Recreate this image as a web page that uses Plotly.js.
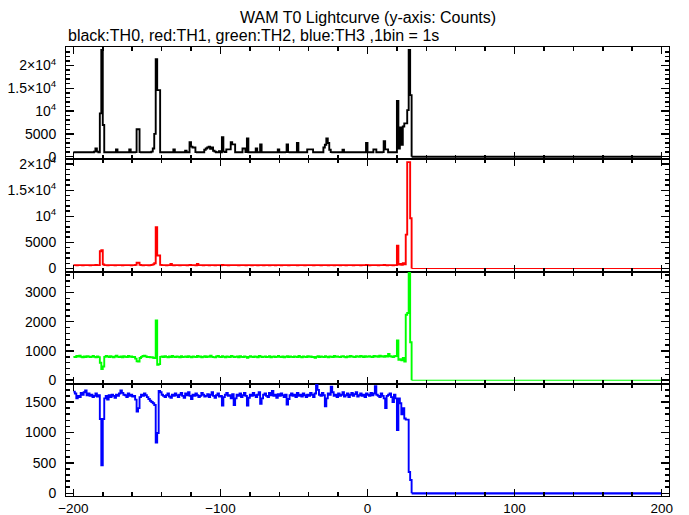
<!DOCTYPE html>
<html><head><meta charset="utf-8">
<script src="https://cdn.plot.ly/plotly-3.0.1.min.js"></script>
<style>html,body{margin:0;padding:0;background:#fff}#chart{width:689px;height:515px}</style>
</head><body><div id="chart"></div>
<script>
const titleText = "WAM T0 Lightcurve (y-axis: Counts)";
const subtitleText = "black:TH0, red:TH1, green:TH2, blue:TH3 ,1bin = 1s";
const firstBin = -200, binWidth = 1, nBins = 230;   // bins -200 .. 29 (1 s each)
const tailTimes = [30, 200];                         // after the drop
const xTickVals = [-200, -100, 0, 100, 200];

// TH0 (black) counts per 1 s bin, -200..29, then tail
const th0 = [
 950, 960, 940, 950, 970, 950, 940, 960, 950, 950,
 960, 950, 970, 980, 1100, 1800, 1100, 950, 9500, 23400,
 6950, 950, 940, 960, 950, 950, 970, 960, 950, 1600,
 950, 960, 950, 940, 950, 960, 950, 970, 1600, 950,
 950, 960, 1000, 6000, 6000, 1000, 950, 960, 940, 950,
 960, 950, 970, 1100, 1800, 5000, 21400, 14600, 14600, 980,
 950, 940, 960, 950, 950, 970, 960, 950, 1600, 950,
 960, 950, 940, 950, 960, 950, 1300, 950, 960, 3150,
 2200, 2000, 2000, 1000, 950, 960, 950, 940, 950, 1500,
 1800, 2000, 2200, 1700, 2000, 1300, 1100, 950, 960, 1200,
 950, 4250, 1100, 1000, 1600, 1600, 1600, 3150, 2700, 2700,
 960, 950, 950, 970, 960, 1800, 1800, 1000, 4000, 960,
 950, 960, 940, 950, 1800, 950, 960, 2700, 950, 960,
 950, 940, 960, 950, 950, 970, 960, 950, 940, 1600,
 950, 960, 950, 970, 1000, 2700, 1000, 950, 960, 950,
 960, 950, 3000, 950, 940, 960, 950, 950, 960, 1600,
 1600, 1600, 1600, 950, 960, 950, 940, 960, 950, 970,
 2000, 2600, 4000, 3000, 1500, 1000, 950, 960, 950, 950,
 960, 950, 970, 1500, 960, 950, 940, 950, 960, 950,
 950, 960, 950, 940, 950, 960, 950, 970, 950, 3000,
 950, 960, 950, 940, 1600, 1600, 950, 960, 950, 940,
 1000, 3400, 1600, 1600, 960, 950, 940, 960, 950, 970,
 12200, 1800, 6400, 2600, 6600, 7300, 7300, 10200, 23400, 13500,
 0, 0];

// TH1 (red)
const th1 = [
 650, 660, 640, 650, 660, 650, 640, 650, 660, 650,
 650, 640, 660, 650, 650, 700, 660, 650, 3300, 3500,
 800, 650, 660, 640, 650, 650, 660, 650, 640, 650,
 660, 650, 650, 640, 660, 650, 650, 660, 650, 640,
 650, 660, 700, 1100, 1100, 700, 650, 640, 650, 660,
 650, 640, 660, 700, 800, 1000, 7900, 2500, 2500, 700,
 650, 660, 650, 640, 650, 660, 900, 650, 640, 650,
 660, 650, 640, 650, 660, 650, 650, 640, 660, 700,
 650, 660, 650, 640, 900, 650, 660, 650, 640, 650,
 660, 650, 640, 660, 650, 650, 640, 650, 660, 650,
 640, 700, 650, 660, 650, 640, 650, 660, 650, 650,
 660, 650, 640, 650, 650, 660, 650, 640, 650, 660,
 650, 640, 660, 650, 650, 640, 650, 660, 650, 640,
 650, 660, 650, 640, 660, 650, 650, 640, 650, 660,
 650, 640, 650, 660, 650, 650, 640, 660, 650, 650,
 660, 650, 640, 650, 660, 650, 650, 640, 660, 650,
 650, 660, 650, 640, 650, 660, 650, 650, 640, 650,
 660, 650, 650, 640, 660, 650, 650, 640, 650, 660,
 650, 640, 660, 650, 650, 640, 650, 660, 650, 650,
 640, 650, 660, 650, 650, 640, 660, 650, 650, 700,
 650, 640, 660, 650, 650, 660, 650, 640, 650, 660,
 650, 700, 650, 640, 660, 650, 650, 640, 660, 650,
 4400, 760, 900, 700, 1000, 800, 6500, 20400, 20400, 9650,
 0, 0];

// TH2 (green)
const th2 = [
 800, 790, 830, 810, 840, 800, 780, 810, 790, 820,
 810, 790, 800, 830, 800, 780, 810, 790, 600, 380,
 470, 800, 830, 810, 790, 820, 800, 780, 810, 840,
 800, 790, 810, 780, 820, 800, 790, 830, 800, 810,
 790, 800, 740, 650, 640, 760, 800, 830, 840, 810,
 790, 800, 780, 790, 770, 760, 2040, 530, 550, 800,
 810, 790, 820, 800, 780, 810, 790, 830, 800, 790,
 810, 800, 780, 820, 790, 800, 810, 790, 820, 800,
 780, 810, 800, 790, 830, 800, 810, 780, 800, 820,
 790, 810, 800, 840, 800, 790, 780, 810, 830, 800,
 790, 820, 800, 780, 810, 800, 790, 830, 810, 790,
 800, 810, 780, 820, 800, 790, 810, 800, 770, 800,
 820, 800, 790, 810, 800, 780, 830, 810, 790, 800,
 810, 790, 800, 820, 780, 800, 810, 790, 800, 830,
 800, 790, 810, 780, 800, 820, 790, 810, 800, 790,
 810, 800, 790, 830, 800, 780, 810, 800, 790, 820,
 800, 810, 790, 800, 770, 800, 820, 790, 810, 800,
 790, 820, 800, 780, 810, 800, 790, 830, 800, 810,
 800, 790, 810, 820, 800, 780, 810, 800, 830, 810,
 800, 790, 820, 810, 800, 830, 810, 790, 820, 800,
 810, 820, 800, 790, 830, 810, 820, 800, 840, 810,
 820, 800, 830, 810, 900, 820, 810, 790, 820, 830,
 1360, 700, 720, 680, 760, 640, 2240, 2300, 3670, 1300,
 0, 0];

// TH3 (blue)
const th3 = [
 1670, 1640, 1560, 1600, 1580, 1650, 1620, 1660, 1690, 1610,
 1640, 1600, 1620, 1580, 1600, 1640, 1590, 1610, 1220, 460,
 1220, 1560, 1600, 1540, 1610, 1580, 1620, 1600, 1570, 1620,
 1600, 1640, 1690, 1650, 1620, 1610, 1580, 1640, 1600, 1620,
 1590, 1600, 1540, 1345, 1400, 1580, 1620, 1600, 1640, 1610,
 1580, 1550, 1520, 1500, 1480, 1450, 835, 990, 1680, 1660,
 1620, 1600, 1580, 1610, 1640, 1590, 1570, 1620, 1600, 1640,
 1610, 1580, 1620, 1650, 1600, 1570, 1640, 1610, 1660, 1600,
 1550, 1620, 1600, 1640, 1610, 1580, 1600, 1650, 1620, 1590,
 1600, 1630, 1580, 1620, 1660, 1600, 1570, 1610, 1640, 1590,
 1600, 1440, 1580, 1620, 1650, 1600, 1610, 1560, 1630, 1450,
 1560, 1620, 1600, 1640, 1580, 1610, 1650, 1600, 1440, 1570,
 1620, 1600, 1650, 1610, 1580, 1620, 1660, 1470, 1560, 1620,
 1640, 1600, 1580, 1650, 1610, 1680, 1600, 1620, 1570, 1630,
 1600, 1640, 1610, 1580, 1620, 1460, 1550, 1610, 1640, 1600,
 1620, 1580, 1650, 1600, 1620, 1590, 1640, 1610, 1580, 1620,
 1600, 1650, 1620, 1580, 1640, 1800, 1700, 1620, 1600, 1650,
 1610, 1430, 1560, 1640, 1620, 1750, 1660, 1600, 1620, 1580,
 1640, 1600, 1620, 1660, 1590, 1610, 1640, 1580, 1620, 1650,
 1600, 1630, 1660, 1590, 1610, 1640, 1600, 1620, 1580, 1640,
 1620, 1600, 1650, 1610, 1640, 1760, 1620, 1600, 1580, 1640,
 1600, 1560, 1400, 1600, 1620, 1640, 1580, 1500, 1620, 1560,
 1040, 1560, 1480, 1300, 1400, 1230, 1210, 1210, 350, 220,
 0, 0];

const seriesList = [th0, th1, th2, th3];
const seriesColors = ['#000000', '#ff0000', '#00ff00', '#0000ff'];
const seriesNames = ['TH0', 'TH1', 'TH2', 'TH3'];
const tailWidths = [2, 1, 1, 2.2];
const yRanges = [[-570, 24050], [-570, 20950], [-120, 3716], [-44, 1800]];
const yTickVals = [
  [0, 5000, 10000, 15000, 20000],
  [0, 5000, 10000, 15000, 20000],
  [0, 1000, 2000, 3000],
  [0, 500, 1000, 1500]
];
const yTickText = [
  ['0', '5000', '10<sup>4</sup>', '1.5×10<sup>4</sup>', '2×10<sup>4</sup>'],
  ['0', '5000', '10<sup>4</sup>', '1.5×10<sup>4</sup>', '2×10<sup>4</sup>'],
  ['0', '1000', '2000', '3000'],
  ['0', '500', '1000', '1500']
];
const yMinorStep = [1000, 1000, 200, 100];

const times = [];
for (let i = 0; i < nBins; i++) times.push(firstBin + i * binWidth);
times.push(...tailTimes);

const fontFam = 'Liberation Sans, Arial, Helvetica, sans-serif';
const traces = [];
seriesList.forEach((ys, k) => {
  const xa = k === 0 ? 'x' : 'x' + (k + 1), ya = k === 0 ? 'y' : 'y' + (k + 1);
  // active part (bins up to the drop)
  traces.push({
    type: 'scatter', mode: 'lines', x: times.slice(0, nBins + 1), y: ys.slice(0, nBins + 1),
    name: seriesNames[k], xaxis: xa, yaxis: ya,
    line: {color: seriesColors[k], width: 1.9, shape: 'hv'}, showlegend: false, hoverinfo: 'skip'
  });
  // flat part after the drop
  traces.push({
    type: 'scatter', mode: 'lines', x: times.slice(nBins), y: ys.slice(nBins),
    name: seriesNames[k] + ' tail', xaxis: xa, yaxis: ya,
    line: {color: seriesColors[k], width: tailWidths[k], shape: 'hv'}, showlegend: false, hoverinfo: 'skip'
  });
});

const layout = {
  width: 689, height: 515,
  margin: {l: 66, r: 20, t: 47, b: 19, pad: 0},
  paper_bgcolor: '#fff', plot_bgcolor: '#fff',
  font: {family: fontFam, size: 14, color: '#000'},
  showlegend: false,
  annotations: [
    {text: titleText, xref: 'paper', yref: 'paper', x: 0.5, y: 1 + 30 / 449, xanchor: 'center', yanchor: 'middle', showarrow: false, font: {family: fontFam, size: 16, color: '#000'}},
    {text: subtitleText, xref: 'paper', yref: 'paper', x: 0, y: 1 + 12 / 449, xanchor: 'left', yanchor: 'middle', showarrow: false, font: {family: fontFam, size: 16, color: '#000'}}
  ]
};
for (let k = 0; k < 4; k++) {
  const xs = k === 0 ? 'xaxis' : 'xaxis' + (k + 1);
  const ysn = k === 0 ? 'yaxis' : 'yaxis' + (k + 1);
  const yid = k === 0 ? 'y' : 'y' + (k + 1);
  const xid = k === 0 ? 'x' : 'x' + (k + 1);
  layout[xs] = {
    range: [-205, 205], anchor: yid, domain: [0, 1],
    showline: true, linecolor: '#000', linewidth: 1, mirror: 'ticks',
    ticks: 'inside', ticklen: 7, tickwidth: 1.5, tickcolor: '#000',
    tickmode: 'array', tickvals: xTickVals, ticktext: xTickVals.map(v => v < 0 ? '\u2212' + Math.abs(v) : String(v)),
    minor: {dtick: 20, tick0: 0, ticks: 'inside', ticklen: 4, tickwidth: 1.5, tickcolor: '#000', showgrid: false},
    showgrid: false, zeroline: false, showticklabels: k === 3,
    tickfont: {family: fontFam, size: 13.5, color: '#000'}, fixedrange: true
  };
  layout[ysn] = {
    range: yRanges[k], anchor: xid, domain: [0.75 - 0.25 * k, 1 - 0.25 * k],
    showline: true, linecolor: '#000', linewidth: 1, mirror: 'ticks',
    ticks: 'inside', ticklen: 8, tickwidth: 1.5, tickcolor: '#000',
    tickmode: 'array', tickvals: yTickVals[k], ticktext: yTickText[k],
    minor: {dtick: yMinorStep[k], tick0: 0, ticks: 'inside', ticklen: 4, tickwidth: 1.5, tickcolor: '#000', showgrid: false},
    showgrid: false, zeroline: false, ticklabelstandoff: 6,
    tickfont: {family: fontFam, size: 14, color: '#000'}, fixedrange: true
  };
}
Plotly.newPlot('chart', traces, layout, {staticPlot: true, displayModeBar: false});
</script></body></html>
